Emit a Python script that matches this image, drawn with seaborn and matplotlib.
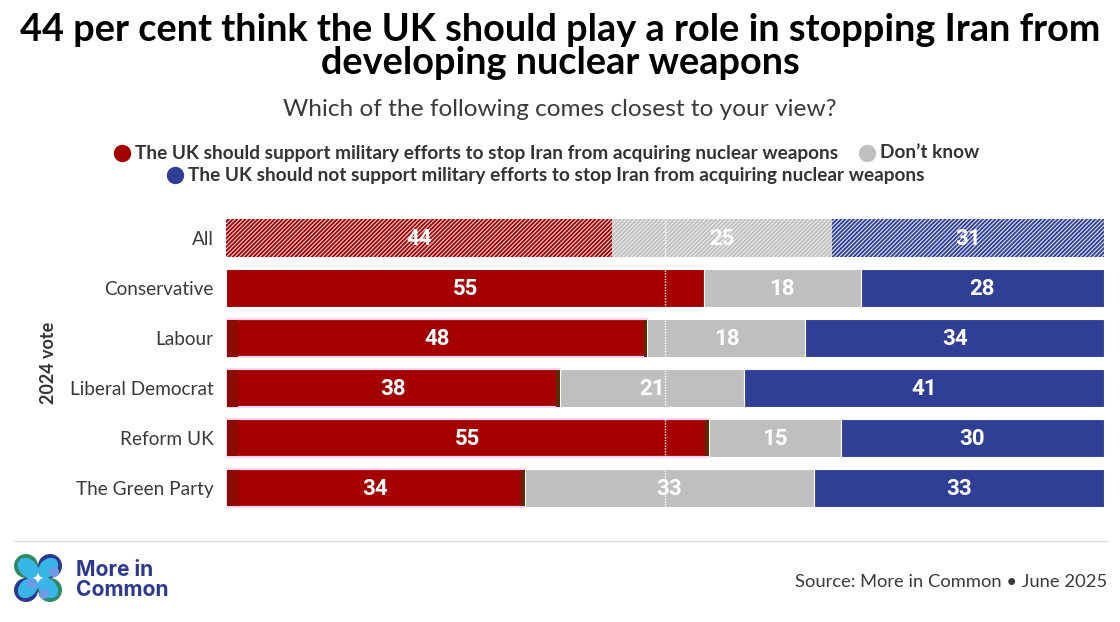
import matplotlib.pyplot as plt
import pandas as pd
import seaborn as sns
from matplotlib.lines import Line2D
from matplotlib.patches import Circle, Ellipse, Rectangle

groups = ['All', 'Conservative', 'Labour', 'Liberal Democrat', 'Reform UK', 'The Green Party']
support = [44, 55, 48, 38, 55, 34]
dont_know = [25, 18, 18, 21, 15, 33]
oppose = [31, 28, 34, 41, 30, 33]

RED = '#a50000'
GREY = '#bfbfbf'
BLUE = '#303f96'
TEXT = '#333333'
W, H = 1120, 622

sns.set_theme(style='white')
plt.rcParams['font.family'] = ['Lato', 'DejaVu Sans']
plt.rcParams['hatch.linewidth'] = 0.8


def fx(x):
    return x / W


def fy(y):
    return 1 - y / H


fig = plt.figure(figsize=(11.2, 6.22), dpi=100)
ax = fig.add_axes([fx(226), fy(513), 878 / W, 300 / H])

df = pd.DataFrame({'group': groups, 'support': support, 'dont_know': dont_know, 'oppose': oppose})
cols = ['support', 'dont_know', 'oppose']
# some rows add up to 101 because of rounding, bars still fill the full width
shares = df[cols].div(df[cols].sum(axis=1), axis=0) * 100
shares['group'] = df['group']

left = 0
for col, colour in zip(cols, [RED, GREY, BLUE]):
    sns.barplot(data=shares, y='group', x=col, left=left, color=colour, width=0.76,
                saturation=1, edgecolor='white', linewidth=0.8, ax=ax)
    left = left + shares[col]

# first row is hatched, the rest solid
for bars, hatch_colour in zip(ax.containers, ['#f4d8d8', '#ececec', '#dfe2f2']):
    bars[0].set_hatch('////////')
    bars[0].set_edgecolor(hatch_colour)
    bars[0].set_linewidth(0)

# the reference has a pink fringe and dark ends on the red bars of the party rows
for i, bar in enumerate(ax.containers[0]):
    if i < 2:
        continue
    bar.set_edgecolor('#ffd4ee')
    bar.set_linewidth(1.6)
    x0, y0, bw, bh = bar.get_x(), bar.get_y(), bar.get_width(), bar.get_height()
    ax.add_patch(Rectangle((x0 + 0.1, y0 + 0.01), 1.3, bh - 0.02, color='#8a0c00', lw=0, zorder=3))
    ax.add_patch(Rectangle((x0 + bw - 0.4, y0 + 0.01), 0.4, bh - 0.02, color='#5f2a00', lw=0, zorder=3))

for bars, col in zip(ax.containers, cols):
    for ann in ax.bar_label(bars, labels=[str(v) for v in df[col]], label_type='center', color='white',
                            fontsize=16, fontweight='bold', family='Roboto', zorder=6):
        ann.xyann = (0, -1)

ax.axvline(50, color='white', lw=1, ls=(0, (1, 1)), zorder=5)

ax.set_xlim(0, 100)
ax.set_ylim(5.5, -0.5)
ax.set_xlabel('')
ax.set_ylabel('')
ax.set_xticks([])
ax.tick_params(axis='y', length=0, pad=9, labelsize=13.7, labelcolor='#3a3a3a')
sns.despine(ax=ax, left=True, bottom=True)

fig.text(fx(48), fy(363), '2024 vote', rotation=90, ha='center', va='center',
         fontsize=13, fontweight='bold', color=TEXT)

# title block
fig.text(fx(560), fy(30), '44 per cent think the UK should play a role in stopping Iran from',
         ha='center', va='center', fontsize=27.3, fontweight='bold', color='black')
fig.text(fx(560), fy(63), 'developing nuclear weapons',
         ha='center', va='center', fontsize=27.3, fontweight='bold', color='black')
fig.text(fx(560), fy(110), 'Which of the following comes closest to your view?',
         ha='center', va='center', fontsize=17.6, color='#3a3a3a')

# legend
legend_items = [
    (122, 153, RED, 135, 'The UK should support military efforts to stop Iran from acquiring nuclear weapons'),
    (867, 153, GREY, 880, 'Don\u2019t know'),
    (175, 175, BLUE, 188, 'The UK should not support military efforts to stop Iran from acquiring nuclear weapons'),
]
for cx, cy, colour, tx, label in legend_items:
    fig.add_artist(Line2D([fx(cx)], [fy(cy)], marker='o', ms=12.5, color=colour, mec='none',
                          transform=fig.transFigure))
    fig.text(fx(tx), fy(cy), label, ha='left', va='center', fontsize=13.7, fontweight='bold', color=TEXT)

# footer
fig.add_artist(Line2D([fx(14), fx(1107)], [fy(541), fy(541)], color='#dddddd', lw=1,
                      transform=fig.transFigure))
fig.text(fx(1107), fy(582), 'Source: More in Common \u2022 June 2025', ha='right', va='center',
         fontsize=13.2, color='#3a3a3a')
fig.text(fx(76), fy(570), 'More in', ha='left', va='center', fontsize=15.1, fontweight='bold',
         color='#2b3990', family='Inter')
fig.text(fx(76), fy(590), 'Common', ha='left', va='center', fontsize=15.1, fontweight='bold',
         color='#2b3990', family='Inter')

# logo
logo = fig.add_axes([fx(14), fy(604), 50 / W, 50 / H])
logo.set_xlim(0, 50)
logo.set_ylim(50, 0)
logo.axis('off')
for cx, cy, outer in [(12, 12, '#2e8b63'), (36, 12, '#2b3990'), (12, 36, '#2b3990'), (36, 36, '#2e8b63')]:
    logo.add_patch(Circle((cx, cy), 12, color=outer, lw=0))
for cx, cy, angle in [(14, 14, 45), (34, 14, -45), (14, 34, -45), (34, 34, 45)]:
    logo.add_patch(Ellipse((cx, cy), 23, 17, angle=angle, color='#38b6e8', lw=0))
for cx, cy in [(40, 18), (18, 30), (30, 40)]:
    logo.add_patch(Circle((cx, cy), 5, color='#6f9ae8', lw=0))

fig.savefig('out.png', dpi=100, facecolor='white')
